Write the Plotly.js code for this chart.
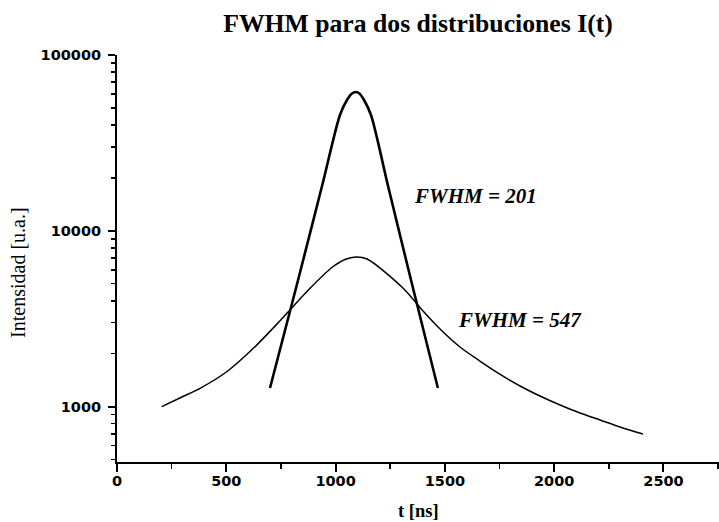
<!DOCTYPE html>
<html>
<head>
<meta charset="utf-8">
<script src="https://cdn.plot.ly/plotly-3.0.1.min.js"></script>
<style>
  html, body { margin: 0; padding: 0; background: #fff; }
  #chart { width: 719px; height: 522px; }
</style>
</head>
<body>
<div id="chart"></div>
<script>
// Narrow pulse (FWHM = 201 ns)
const tNarrow = [700, 819, 938, 1020, 1052, 1075, 1093, 1109, 1130, 1162, 1240, 1354, 1468];
const iNarrow = [1276, 4727, 17980, 45580, 55460, 60400, 61600, 60400, 55460, 45580, 17980, 4727, 1276];

// Wide pulse (FWHM = 547 ns)
const tWide = [205, 297, 380, 502, 624, 746, 883, 983, 1043, 1093, 1144, 1308, 1400, 1478,
               1569, 1660, 1751, 1844, 1935, 2027, 2118, 2210, 2301, 2406];
const iWide = [1000, 1134, 1271, 1579, 2146, 3080, 4709, 6183, 6866, 7096, 6911, 4727, 3499, 2763,
               2183, 1817, 1532, 1310, 1149, 1021, 919, 839, 766, 698];

const yTickVals = [1000, 10000, 100000];
const yTickText = ['1000', '10000', '100000'];
const xTickVals = [0, 500, 1000, 1500, 2000, 2500];
const xTickText = ['0', '500', '1000', '1500', '2000', '2500'];

const traces = [
  {
    x: tNarrow, y: iNarrow, type: 'scatter', mode: 'lines',
    line: { color: '#000', width: 2.6, shape: 'spline', smoothing: 0.8 },
    hoverinfo: 'skip'
  },
  {
    x: tWide, y: iWide, type: 'scatter', mode: 'lines',
    line: { color: '#000', width: 1.5, shape: 'spline', smoothing: 0.8 },
    hoverinfo: 'skip'
  }
];

const tickFont = { family: 'DejaVu Sans', size: 14.5, color: '#000', weight: 'bold' };

const layout = {
  width: 719, height: 522,
  margin: { l: 117, r: 0, t: 55, b: 60 },
  paper_bgcolor: '#fff', plot_bgcolor: '#fff',
  showlegend: false,
  title: {
    text: '<b>FWHM para dos distribuciones I(t)</b>',
    font: { family: 'Liberation Serif', size: 25.7, color: '#000' },
    x: 0.5, xref: 'paper', xanchor: 'center',
    y: 0.956, yref: 'container', yanchor: 'middle'
  },
  xaxis: {
    range: [0, 2754],
    showline: true, linecolor: '#000', linewidth: 2,
    showgrid: false, zeroline: false,
    tickmode: 'array', tickvals: xTickVals, ticktext: xTickText,
    ticks: 'outside', ticklen: 8, tickwidth: 2, tickcolor: '#000',
    ticklabelstandoff: -3,
    minor: { dtick: 250, ticks: 'outside', ticklen: 5, tickwidth: 1.5, tickcolor: '#000', showgrid: false },
    tickfont: tickFont
  },
  yaxis: {
    type: 'log',
    range: [2.685, 5],
    showline: true, linecolor: '#000', linewidth: 2,
    showgrid: false, zeroline: false,
    tickmode: 'array', tickvals: yTickVals, ticktext: yTickText,
    ticks: 'outside', ticklen: 7, tickwidth: 2, tickcolor: '#000',
    ticklabelstandoff: 4,
    minor: { dtick: 'D1', ticks: 'outside', ticklen: 4, tickwidth: 1.5, tickcolor: '#000', showgrid: false },
    tickfont: tickFont
  },
  annotations: [
    {
      text: '<b><i>FWHM = 201</i></b>', xref: 'paper', yref: 'paper',
      x: 0.596, y: 0.654, xanchor: 'center', yanchor: 'middle', showarrow: false,
      font: { family: 'Liberation Serif', size: 21, color: '#000' }
    },
    {
      text: '<b><i>FWHM = 547</i></b>', xref: 'paper', yref: 'paper',
      x: 0.669, y: 0.349, xanchor: 'center', yanchor: 'middle', showarrow: false,
      font: { family: 'Liberation Serif', size: 21, color: '#000' }
    },
    {
      text: '<b>t [ns]</b>', xref: 'paper', yref: 'paper',
      x: 0.5, y: -0.121, xanchor: 'center', yanchor: 'middle', showarrow: false,
      font: { family: 'Liberation Serif', size: 18.5, color: '#000' }
    },
    {
      text: 'Intensidad [u.a.]', xref: 'paper', yref: 'paper',
      x: -0.1645, y: 0.467, xanchor: 'center', yanchor: 'middle', showarrow: false,
      textangle: -90,
      font: { family: 'Liberation Serif', size: 20, color: '#000' }
    }
  ]
};

Plotly.newPlot('chart', traces, layout, { staticPlot: true, displayModeBar: false });
</script>
</body>
</html>
